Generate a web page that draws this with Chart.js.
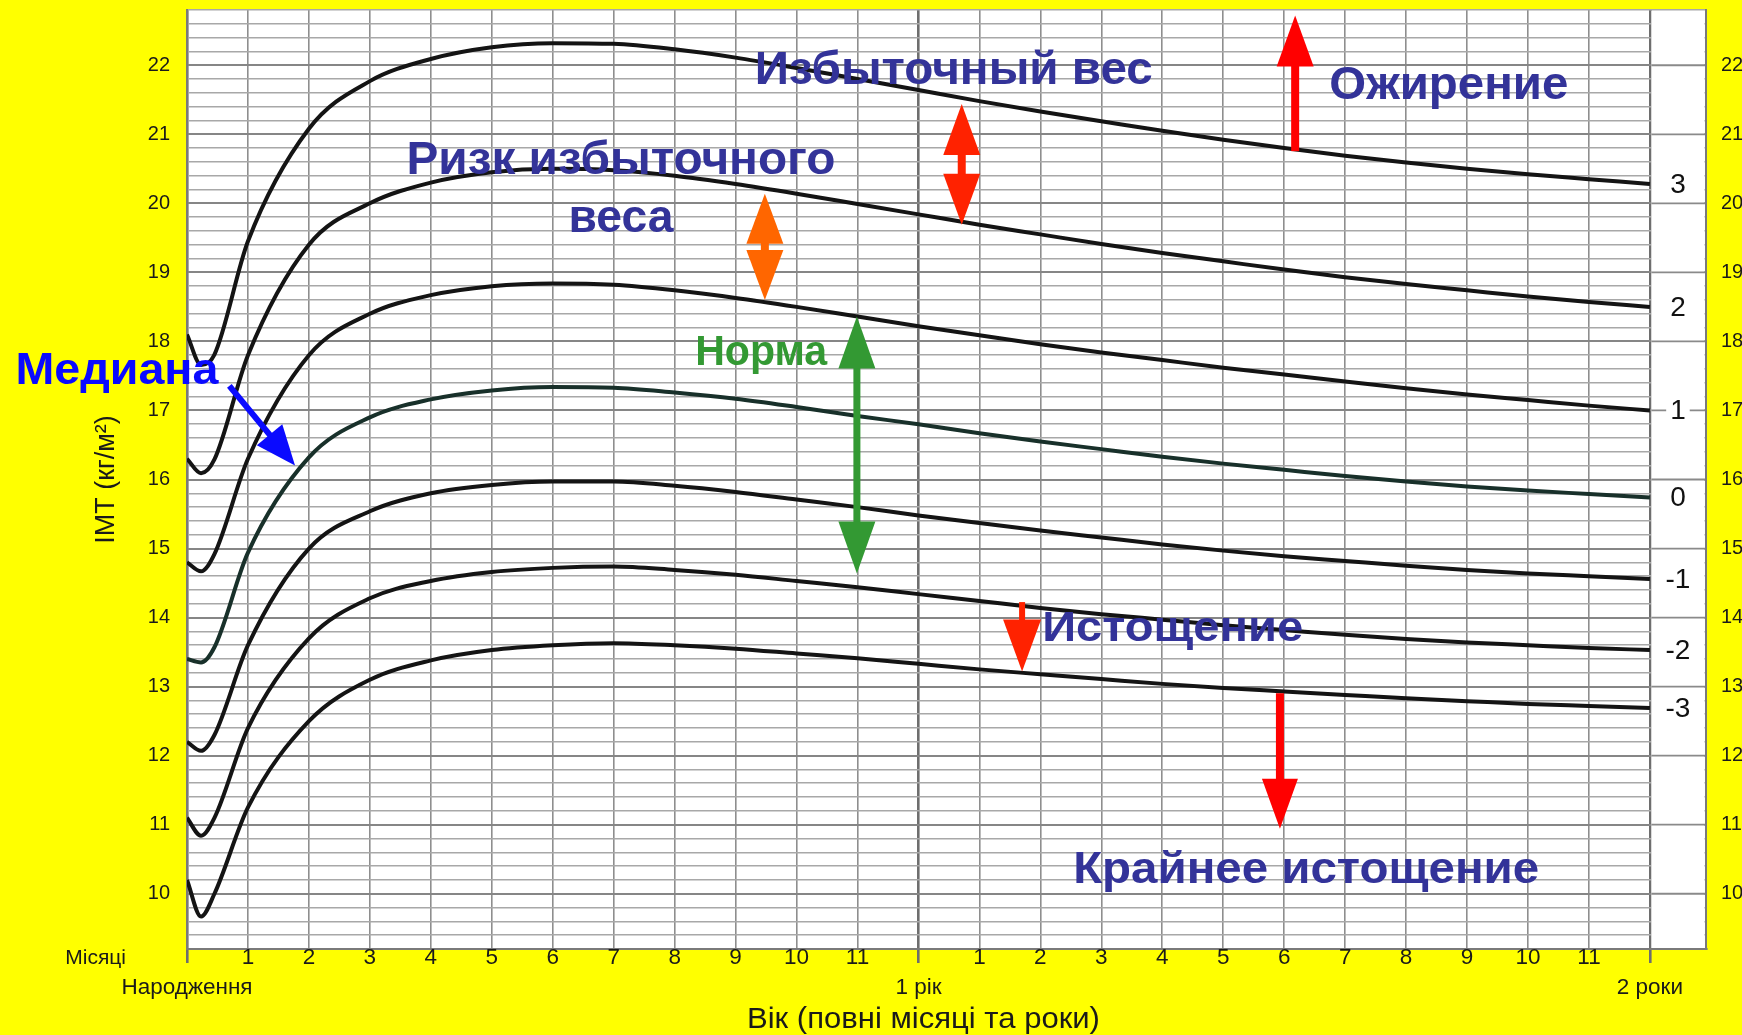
<!DOCTYPE html>
<html>
<head>
<meta charset="utf-8">
<script src="https://cdn.jsdelivr.net/npm/chart.js@4/dist/chart.umd.min.js"></script>
<style>
  html, body { margin: 0; padding: 0; background: #ffff00; }
  #wrap { width: 1742px; height: 1035px; position: relative; }
</style>
</head>
<body>
<div id="wrap"><canvas id="bmiChart"></canvas></div>
<script>
// age in months (second and third points are 1 and 2 weeks)
const ageMonths = [0, 0.23, 0.45, 1, 2, 3, 4, 5, 6, 7, 8, 9, 10, 11, 12, 13, 14, 15, 16, 17, 18, 19, 20, 21, 22, 23, 24];

// BMI curves (z-scores +3 .. -3)
const sdPlus3 = [18.1, 17.66, 17.81, 19.45, 21.08, 21.77, 22.09, 22.26, 22.32, 22.31, 22.23, 22.11, 21.96, 21.8, 21.64, 21.48, 21.33, 21.19, 21.05, 20.92, 20.8, 20.69, 20.59, 20.5, 20.42, 20.35, 20.28];
const sdPlus2 = [16.3, 16.09, 16.29, 17.8, 19.4, 20.0, 20.3, 20.45, 20.5, 20.48, 20.4, 20.28, 20.14, 19.99, 19.84, 19.69, 19.55, 19.41, 19.28, 19.16, 19.04, 18.93, 18.83, 18.74, 18.65, 18.57, 18.5];
const sdPlus1 = [14.8, 14.67, 14.92, 16.3, 17.8, 18.4, 18.67, 18.8, 18.84, 18.82, 18.74, 18.63, 18.5, 18.36, 18.22, 18.09, 17.96, 17.84, 17.73, 17.62, 17.52, 17.42, 17.32, 17.23, 17.15, 17.07, 17.0];
const sdMedian = [13.4, 13.35, 13.57, 14.94, 16.32, 16.9, 17.16, 17.29, 17.34, 17.33, 17.26, 17.17, 17.05, 16.92, 16.8, 16.67, 16.55, 16.44, 16.33, 16.23, 16.14, 16.05, 15.97, 15.9, 15.84, 15.79, 15.74];
const sdMinus1 = [12.2, 12.07, 12.3, 13.6, 15.0, 15.54, 15.8, 15.92, 15.97, 15.97, 15.91, 15.82, 15.71, 15.6, 15.48, 15.37, 15.26, 15.16, 15.06, 14.97, 14.89, 14.82, 14.75, 14.69, 14.64, 14.6, 14.56];
const sdMinus2 = [11.1, 10.84, 11.1, 12.4, 13.7, 14.28, 14.53, 14.66, 14.72, 14.74, 14.69, 14.62, 14.53, 14.44, 14.34, 14.24, 14.14, 14.05, 13.97, 13.89, 13.82, 13.75, 13.69, 13.64, 13.6, 13.56, 13.53];
const sdMinus3 = [10.2, 9.67, 10.0, 11.25, 12.5, 13.1, 13.38, 13.53, 13.6, 13.63, 13.6, 13.55, 13.48, 13.41, 13.33, 13.25, 13.18, 13.11, 13.04, 12.98, 12.93, 12.88, 12.83, 12.79, 12.75, 12.72, 12.69];

const zLabels = ['3', '2', '1', '0', '-1', '-2', '-3'];
const bmiTickLabels = [10, 11, 12, 13, 14, 15, 16, 17, 18, 19, 20, 21, 22];
const monthTickLabels = ['', '1', '2', '3', '4', '5', '6', '7', '8', '9', '10', '11', '', '1', '2', '3', '4', '5', '6', '7', '8', '9', '10', '11', ''];
const yearLabels = {0: 'Народження', 12: '1 рік', 24: '2 роки'};

const FONT = "'Liberation Sans', Arial, sans-serif";
const DARK_BLUE = '#333399';

// annotation texts: x in months, y = baseline in BMI units
const notes = [
  {text: 'Медиана', x: -1.15, y: 17.39, size: 45, width: 203, color: '#0a0aff'},
  {text: 'Избыточный вес', x: 12.58, y: 21.73, size: 47, width: 398, color: DARK_BLUE},
  {text: 'Ожирение', x: 20.70, y: 21.51, size: 46, width: 239, color: DARK_BLUE},
  {text: 'Ризк избыточного', x: 7.12, y: 20.42, size: 46, width: 429, color: DARK_BLUE},
  {text: 'веса', x: 7.12, y: 19.59, size: 46, width: 105, color: DARK_BLUE},
  {text: 'Норма', x: 9.42, y: 17.66, size: 42, width: 132, color: '#339933'},
  {text: 'Истощение', x: 16.17, y: 13.66, size: 42, width: 261, color: DARK_BLUE},
  {text: 'Крайнее истощение', x: 18.36, y: 10.16, size: 45, width: 466, color: DARK_BLUE}
];

const arrows = [
  {from: [0.705, 17.345], to: [1.772, 16.203], color: '#0a0aff', head: 40, headW: 33, shaft: 6},
  {from: [18.18, 20.77], to: [18.18, 22.72], color: '#ff0000', head: 51, headW: 37, shaft: 8},
  {from: [12.71, 21.44], to: [12.71, 19.69], color: '#ff2200', head: 51, headW: 37, shaft: 8, both: true},
  {from: [9.48, 20.14], to: [9.48, 18.60], color: '#ff6600', head: 50, headW: 37, shaft: 8, both: true},
  {from: [10.99, 18.36], to: [10.99, 14.64], color: '#339933', head: 52, headW: 37, shaft: 7, both: true},
  {from: [13.70, 14.21], to: [13.70, 13.22], color: '#ff2200', head: 52, headW: 38, shaft: 6},
  {from: [17.93, 12.89], to: [17.93, 10.94], color: '#ff0000', head: 50, headW: 36, shaft: 8}
];

const curves = [sdPlus3, sdPlus2, sdPlus1, sdMedian, sdMinus1, sdMinus2, sdMinus3];

const isWhole = v => Math.abs(v - Math.round(v)) < 1e-6;
const isYearTick = v => isWhole(v) && Math.round(v) % 12 === 0;

function bmiLabel(value) {
  if (!isWhole(value)) return '';
  const v = Math.round(value);
  return bmiTickLabels.includes(v) ? String(v) : '';
}

// fixed box sizes so the plot area sits where it does in the original
function pinBox(size) {
  return s => {
    if (s.isHorizontal()) s.height = size; else s.width = size;
    s.paddingTop = 0; s.paddingBottom = 0; s.paddingLeft = 0; s.paddingRight = 0;
  };
}

function drawArrow(ctx, xs, ys, a) {
  const x1 = xs.getPixelForValue(a.from[0]), y1 = ys.getPixelForValue(a.from[1]);
  const x2 = xs.getPixelForValue(a.to[0]), y2 = ys.getPixelForValue(a.to[1]);
  const len = Math.hypot(x2 - x1, y2 - y1);
  const hl = a.head, hw = a.headW, sw = a.shaft;
  const s0 = a.both ? hl : 0;
  ctx.save();
  ctx.translate(x1, y1);
  ctx.rotate(Math.atan2(y2 - y1, x2 - x1));
  ctx.fillStyle = a.color;
  ctx.fillRect(s0 - 1, -sw / 2, len - hl - s0 + 2, sw);
  ctx.beginPath();
  ctx.moveTo(len, 0); ctx.lineTo(len - hl, -hw / 2); ctx.lineTo(len - hl, hw / 2);
  ctx.closePath(); ctx.fill();
  if (a.both) {
    ctx.beginPath();
    ctx.moveTo(0, 0); ctx.lineTo(hl, -hw / 2); ctx.lineTo(hl, hw / 2);
    ctx.closePath(); ctx.fill();
  }
  ctx.restore();
}

// text squeezed/stretched to a given width (the original uses a stretched face)
function drawStretched(ctx, text, px, py, font, width, color, baseline) {
  ctx.save();
  ctx.font = font;
  ctx.fillStyle = color;
  ctx.textAlign = 'center';
  ctx.textBaseline = baseline;
  const w = ctx.measureText(text).width;
  ctx.translate(px, py);
  ctx.scale(width / w, 1);
  ctx.fillText(text, 0, 0);
  ctx.restore();
}

const chartDecor = {
  id: 'chartDecor',
  beforeDraw(chart) {
    const {ctx, chartArea: a} = chart;
    ctx.save();
    ctx.fillStyle = '#ffffff';
    ctx.fillRect(a.left, a.top, a.right - a.left, a.bottom - a.top);
    ctx.restore();
  },
  beforeDatasetsDraw(chart) {
    // column after 2 years: only whole-number lines
    const {ctx, chartArea: a, scales: {x, y}} = chart;
    const x0 = x.getPixelForValue(24) + 1.5;
    ctx.save();
    ctx.fillStyle = '#ffffff';
    ctx.fillRect(x0, a.top + 1, a.right - 1.5 - x0, a.bottom - a.top - 2);
    ctx.strokeStyle = '#8a8a8a';
    ctx.lineWidth = 1.8;
    bmiTickLabels.forEach(v => {
      const py = y.getPixelForValue(v);
      ctx.beginPath(); ctx.moveTo(x0, py); ctx.lineTo(a.right - 1, py); ctx.stroke();
    });
    ctx.restore();
  },
  afterDatasetsDraw(chart) {
    const {ctx, chartArea: a, scales: {x, y}} = chart;
    // z-score labels at the end of each curve
    const cx = (x.getPixelForValue(24) + a.right) / 2;
    ctx.save();
    ctx.font = `28px ${FONT}`;
    ctx.textAlign = 'center';
    ctx.textBaseline = 'middle';
    curves.forEach((c, i) => {
      const py = y.getPixelForValue(c[c.length - 1]) + 1;
      const w = ctx.measureText(zLabels[i]).width;
      ctx.fillStyle = '#ffffff';
      ctx.fillRect(cx - w / 2 - 4, py - 14, w + 8, 28);
      ctx.fillStyle = '#111111';
      ctx.fillText(zLabels[i], cx, py);
    });
    ctx.restore();
  },
  afterDraw(chart) {
    const {ctx, scales: {x, y}} = chart;
    ctx.save();
    ctx.font = `21px ${FONT}`;
    ctx.fillStyle = '#1a1a1a';
    ctx.textAlign = 'right';
    ctx.textBaseline = 'middle';
    ctx.fillText('Місяці', x.left - 61, x.top + 9);
    ctx.restore();
    drawStretched(ctx, 'Вік (повні місяці та роки)', x.getPixelForValue(12) + 5, x.bottom - 15,
      `29px ${FONT}`, 353, '#1a1a1a', 'middle');
    arrows.forEach(a => drawArrow(ctx, x, y, a));
    notes.forEach(t => drawStretched(ctx, t.text, x.getPixelForValue(t.x), y.getPixelForValue(t.y),
      `bold ${t.size}px ${FONT}`, t.width, t.color, 'alphabetic'));
  }
};

new Chart(document.getElementById('bmiChart'), {
  type: 'line',
  data: {
    datasets: curves.map((c, i) => ({
      label: zLabels[i],
      data: ageMonths.map((m, j) => ({x: m, y: c[j]})),
      borderColor: i === 3 ? '#18302a' : '#141414',
      borderWidth: 4,
      pointRadius: 0,
      cubicInterpolationMode: 'monotone',
      fill: false
    }))
  },
  options: {
    responsive: true,
    maintainAspectRatio: false,
    animation: false,
    layout: {padding: {top: 10, left: 0, right: 0, bottom: 0}},
    plugins: {legend: {display: false}, tooltip: {enabled: false}},
    scales: {
      x: {
        type: 'linear',
        min: 0,
        max: 24.92,
        bounds: 'data',
        afterFit: pinBox(86),
        ticks: {
          stepSize: 1,
          includeBounds: false,
          autoSkip: false,
          maxRotation: 0,
          padding: -20,
          color: '#1a1a1a',
          font: {family: FONT, size: 22.5, lineHeight: '30px'},
          callback: v => {
            if (v > 24) return '';
            if (yearLabels[v] !== undefined) return ['', yearLabels[v]];
            return monthTickLabels[v];
          }
        },
        grid: {
          color: ctx => isYearTick(ctx.tick.value) ? '#6e6e6e' : '#8e8e8e',
          lineWidth: ctx => isYearTick(ctx.tick.value) ? 2.6 : 1.6,
          drawTicks: true,
          tickLength: 14,
          tickColor: ctx => isYearTick(ctx.tick.value) ? '#6e6e6e' : 'rgba(0,0,0,0)',
          tickWidth: 2.6
        },
        border: {display: true, color: '#7a7a7a', width: 2}
      },
      y: {
        type: 'linear',
        position: 'left',
        min: 9.2,
        max: 22.8,
        bounds: 'data',
        afterFit: pinBox(187),
        ticks: {
          stepSize: 0.2,
          autoSkip: false,
          padding: 17,
          color: '#1a1a1a',
          font: {family: FONT, size: 20},
          callback: bmiLabel
        },
        grid: {
          color: ctx => isWhole(ctx.tick.value) ? '#868686' : '#a8a8a8',
          lineWidth: ctx => isWhole(ctx.tick.value) ? 2 : 1.6,
          drawTicks: false
        },
        border: {display: true, color: '#7a7a7a', width: 2},
        title: {
          display: true,
          text: 'IMT (кг/м²)',
          color: '#1a1a1a',
          font: {family: FONT, size: 27},
          padding: {top: 90, bottom: 0}
        }
      },
      y2: {
        type: 'linear',
        position: 'right',
        min: 9.2,
        max: 22.8,
        bounds: 'data',
        afterFit: pinBox(36),
        ticks: {
          stepSize: 0.2,
          autoSkip: false,
          padding: 15,
          color: '#1a1a1a',
          font: {family: FONT, size: 20},
          callback: bmiLabel
        },
        grid: {display: false, drawTicks: false},
        border: {display: true, color: '#7a7a7a', width: 2}
      }
    }
  },
  plugins: [chartDecor]
});
</script>
</body>
</html>
